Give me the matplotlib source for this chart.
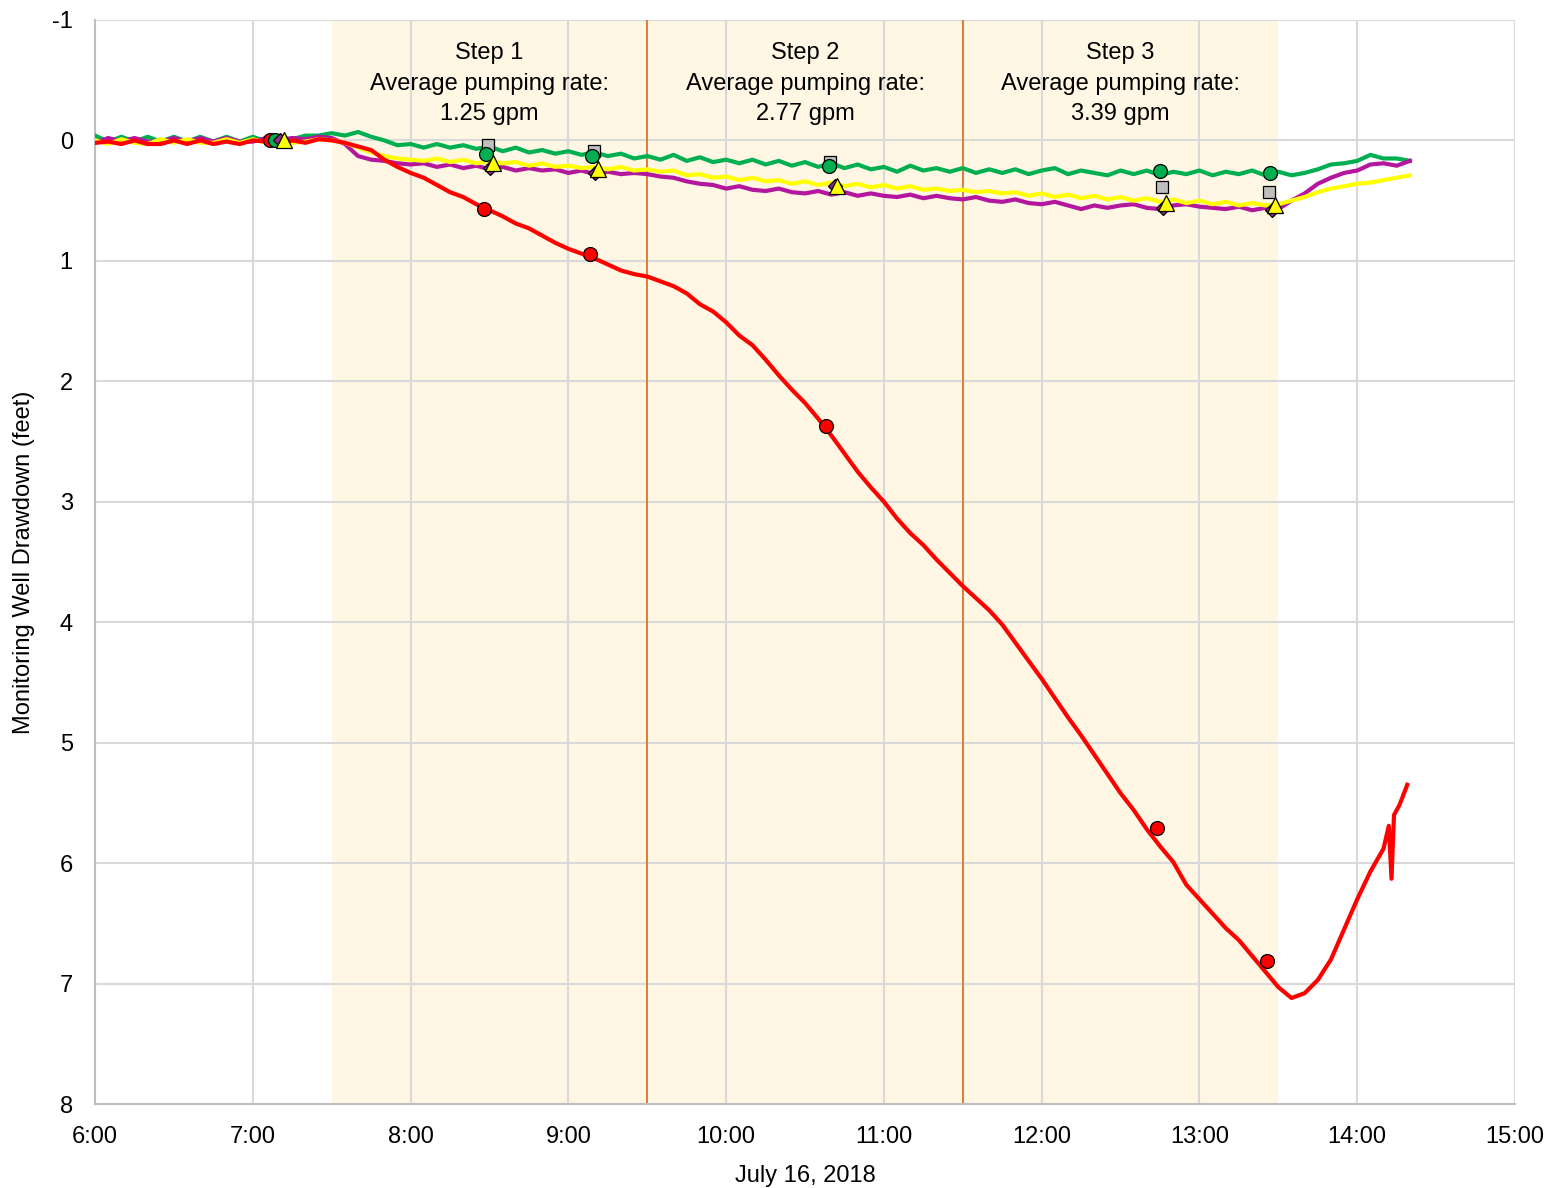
import matplotlib

matplotlib.use("Agg")
import matplotlib.pyplot as plt
from matplotlib.ticker import FuncFormatter, MultipleLocator

# --------------------------------------------------------------------------- #
#  Data (time in decimal hours, drawdown in feet)
# --------------------------------------------------------------------------- #
# 5-minute readings from 6:00 to 14:20
times = [6 + i * 5 / 60 for i in range(101)]

green = [
    -0.04, 0.01, -0.03, 0.01, -0.03, 0.01, -0.03, 0.01, -0.03, 0.01,
    -0.03, 0.01, -0.03, 0.01, -0.02, -0.01, -0.04, -0.04, -0.06,
    -0.04, -0.07, -0.03, 0.00, 0.04, 0.03, 0.06, 0.03, 0.06, 0.04,
    0.07, 0.05, 0.09, 0.06, 0.10, 0.08, 0.11, 0.09, 0.12, 0.10,
    0.13, 0.11, 0.15, 0.13, 0.16, 0.12, 0.17, 0.14, 0.18, 0.16,
    0.19, 0.16, 0.20, 0.17, 0.21, 0.18, 0.22, 0.19, 0.23, 0.20,
    0.24, 0.22, 0.26, 0.21, 0.25, 0.23, 0.26, 0.23, 0.27, 0.24,
    0.27, 0.24, 0.28, 0.25, 0.23, 0.28, 0.25, 0.27, 0.29, 0.25,
    0.28, 0.25, 0.29, 0.26, 0.28, 0.25, 0.29, 0.26, 0.28, 0.25,
    0.29, 0.26, 0.29, 0.27, 0.24, 0.20, 0.19, 0.17, 0.12, 0.15,
    0.15, 0.17,
]

yellow = [
    0.00, 0.03, -0.01, 0.02, 0.03, -0.01, 0.02, -0.01, 0.02, 0.02,
    -0.01, 0.02, -0.01, 0.02, 0.00, 0.02, 0.01, -0.01, 0.00,
    0.02, 0.06, 0.10, 0.13, 0.15, 0.16, 0.17, 0.15, 0.18, 0.16,
    0.19, 0.17, 0.19, 0.18, 0.21, 0.19, 0.22, 0.21, 0.23, 0.22,
    0.24, 0.22, 0.25, 0.24, 0.26, 0.25, 0.29, 0.28, 0.31, 0.30,
    0.33, 0.31, 0.34, 0.33, 0.36, 0.34, 0.37, 0.35, 0.38, 0.36,
    0.39, 0.37, 0.40, 0.38, 0.41, 0.40, 0.42, 0.41, 0.43, 0.42,
    0.44, 0.43, 0.46, 0.44, 0.47, 0.45, 0.48, 0.46, 0.49, 0.47,
    0.50, 0.48, 0.51, 0.49, 0.52, 0.50, 0.53, 0.51, 0.54, 0.52,
    0.54, 0.53, 0.50, 0.47, 0.43, 0.40, 0.38, 0.36, 0.35, 0.33,
    0.31, 0.29,
]

magenta = [
    0.02, -0.02, 0.01, -0.02, 0.01, 0.01, -0.02, 0.01, -0.02, 0.01,
    -0.02, 0.01, 0.01, -0.02, 0.00, -0.02, -0.01, -0.03, -0.02,
    0.03, 0.13, 0.16, 0.17, 0.19, 0.20, 0.19, 0.22, 0.20, 0.23,
    0.21, 0.24, 0.22, 0.25, 0.23, 0.25, 0.24, 0.27, 0.25, 0.28,
    0.26, 0.28, 0.27, 0.28, 0.30, 0.31, 0.34, 0.36, 0.37, 0.40,
    0.38, 0.41, 0.42, 0.40, 0.43, 0.44, 0.42, 0.45, 0.43, 0.46,
    0.44, 0.46, 0.47, 0.45, 0.48, 0.46, 0.48, 0.49, 0.47, 0.50,
    0.51, 0.49, 0.52, 0.53, 0.51, 0.54, 0.57, 0.54, 0.56, 0.54,
    0.53, 0.56, 0.57, 0.54, 0.53, 0.55, 0.56, 0.57, 0.55, 0.58,
    0.56, 0.57, 0.50, 0.44, 0.36, 0.31, 0.27, 0.25, 0.20, 0.19,
    0.21, 0.17,
]

red_times = times[:99] + [14.20, 14.217, 14.233, 14.267, 14.317]
red = [
    0.02, 0.01, 0.03, 0.00, 0.03, 0.03, 0.00, 0.03, 0.00, 0.03,
    0.01, 0.03, 0.00, 0.01, 0.03, 0.00, 0.02, -0.01, 0.00,
    0.02, 0.05, 0.08, 0.16, 0.22, 0.27, 0.31, 0.37, 0.43, 0.47,
    0.53, 0.58, 0.63, 0.69, 0.73, 0.79, 0.85, 0.90, 0.94, 0.98,
    1.03, 1.08, 1.11, 1.13, 1.17, 1.21, 1.27, 1.36, 1.42, 1.51,
    1.62, 1.70, 1.82, 1.95, 2.07, 2.18, 2.31, 2.45, 2.60, 2.75,
    2.88, 3.00, 3.14, 3.26, 3.36, 3.48, 3.59, 3.70, 3.80, 3.90,
    4.02, 4.17, 4.32, 4.47, 4.63, 4.79, 4.94, 5.10, 5.26, 5.42,
    5.56, 5.72, 5.86, 5.99, 6.18, 6.30, 6.42, 6.54, 6.64, 6.77,
    6.90, 7.03, 7.12, 7.08, 6.97, 6.80, 6.55, 6.30, 6.07, 5.88,
    5.69, 6.13, 5.60, 5.52, 5.35,
]

# manual readings (time, drawdown)
red_pts_t = [7.11, 8.465, 9.137, 10.63, 12.73, 13.43]
red_pts_v = [0.00, 0.57, 0.94, 2.37, 5.71, 6.81]
green_pts_t = [7.14, 8.48, 9.15, 10.65, 12.75, 13.45]
green_pts_v = [0.00, 0.11, 0.13, 0.21, 0.25, 0.27]
square_pts_t = [8.49, 9.16, 10.66, 12.76, 13.44]
square_pts_v = [0.04, 0.09, 0.18, 0.39, 0.43]
diamond_pts_t = [7.17, 8.50, 9.17, 10.69, 12.77, 13.46]
diamond_pts_v = [0.00, 0.23, 0.27, 0.38, 0.56, 0.58]
tri_pts_t = [7.20, 8.52, 9.19, 10.70, 12.79, 13.48]
tri_pts_v = [0.00, 0.19, 0.24, 0.38, 0.52, 0.54]

steps = ["Step 1", "Step 2", "Step 3"]
rates = ["1.25 gpm", "2.77 gpm", "3.39 gpm"]
step_bounds = [7.5, 9.5, 11.5, 13.5]

# --------------------------------------------------------------------------- #
#  Figure
# --------------------------------------------------------------------------- #
plt.rcParams["font.family"] = ["Liberation Sans", "DejaVu Sans"]

fig = plt.figure(figsize=(15.51, 11.88), dpi=100)
ax = fig.add_axes([0.0613, 0.0707, 0.9155, 0.9125])

ax.axvspan(step_bounds[0], step_bounds[-1], color="#fff7e4", zorder=0,
           linewidth=0)
for xb in step_bounds[1:-1]:
    ax.axvline(xb, color="#e07b39", linewidth=1.4, zorder=1)

for i, (s, r) in enumerate(zip(steps, rates)):
    xc = (step_bounds[i] + step_bounds[i + 1]) / 2
    ax.text(xc, -0.47, f"{s}\nAverage pumping rate:\n{r}", ha="center",
            va="center", fontsize=17, linespacing=1.5, zorder=5)

lw = 3.0
ax.plot(times, green, color="#00b050", linewidth=lw, zorder=3)
ax.plot(times, magenta, color="#b4169e", linewidth=lw, zorder=3)
ax.plot(times, yellow, color="#ffff00", linewidth=lw, zorder=3)
ax.plot(red_times, red, color="#ff0000", linewidth=lw, zorder=4)

mk = dict(markeredgecolor="black", markeredgewidth=0.9, linestyle="none",
          zorder=6)
ax.plot(red_pts_t, red_pts_v, "o", color="#ff0000", markersize=10, **mk)
ax.plot(square_pts_t, square_pts_v, "s", color="#bfbfbf", markersize=8, **mk)
ax.plot(green_pts_t, green_pts_v, "o", color="#00b050", markersize=10, **mk)
ax.plot(diamond_pts_t, diamond_pts_v, "D", color="#8e2a8e", markersize=7,
        **mk)
ax.plot(tri_pts_t, tri_pts_v, "^", color="#ffff00", markersize=11, **mk)

ax.set_xlim(6, 15)
ax.set_ylim(8, -1)
ax.xaxis.set_major_locator(MultipleLocator(1))
ax.yaxis.set_major_locator(MultipleLocator(1))
ax.xaxis.set_major_formatter(FuncFormatter(lambda v, p: f"{int(round(v))}:00"))
ax.yaxis.set_major_formatter(FuncFormatter(lambda v, p: f"{int(round(v))}"))

ax.grid(True, color="#d9d9d9", linewidth=1.5, zorder=0.5)
ax.set_axisbelow(True)
ax.tick_params(length=0, labelsize=17)
ax.tick_params(axis="x", pad=16)
ax.tick_params(axis="y", pad=16)
for side in ["top", "right"]:
    ax.spines[side].set_visible(False)
for side in ["left", "bottom"]:
    ax.spines[side].set_color("#bfbfbf")
    ax.spines[side].set_linewidth(1.5)

ax.set_xlabel("July 16, 2018", fontsize=17, labelpad=12)
ax.set_ylabel("Monitoring Well Drawdown (feet)", fontsize=17, labelpad=12)

fig.savefig("out.png", dpi=100)
